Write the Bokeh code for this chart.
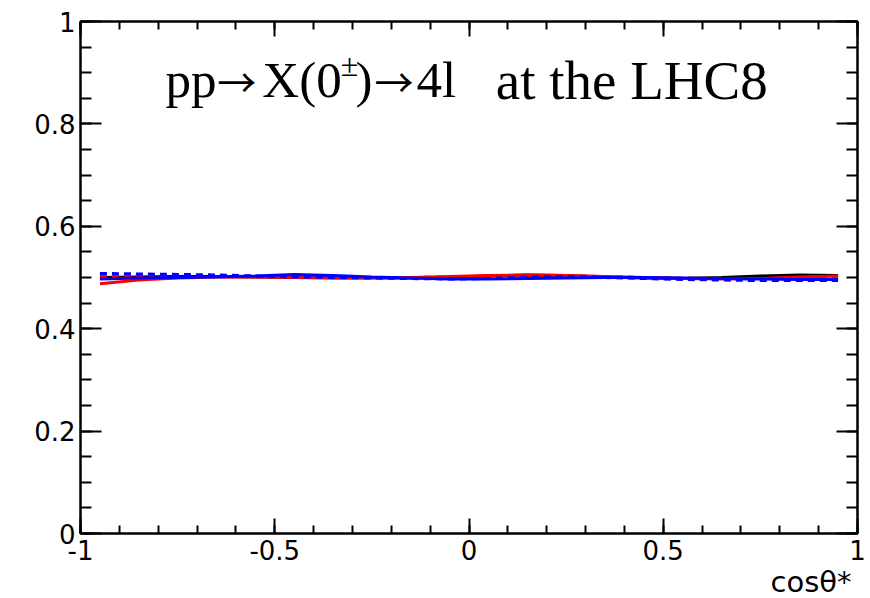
from bokeh.plotting import figure
from bokeh.models import LinearAxis, FixedTicker, Label, Range1d, Title
from bokeh.embed import file_html
from bokeh.resources import INLINE

# ---- data ----
cos_theta = [-0.95, -0.85, -0.75, -0.65, -0.55, -0.45, -0.35, -0.25, -0.15, -0.05,
             0.05, 0.15, 0.25, 0.35, 0.45, 0.55, 0.65, 0.75, 0.85, 0.95]
black_solid = [0.500, 0.501, 0.502, 0.502, 0.501, 0.500, 0.499, 0.499, 0.499, 0.500,
               0.503, 0.505, 0.504, 0.501, 0.499, 0.498, 0.500, 0.503, 0.505, 0.504]
red_solid = [0.488, 0.495, 0.499, 0.501, 0.501, 0.500, 0.500, 0.500, 0.500, 0.502,
             0.504, 0.505, 0.504, 0.502, 0.500, 0.498, 0.497, 0.498, 0.501, 0.503]
red_dashed = [0.502, 0.503, 0.503, 0.503, 0.502, 0.502, 0.501, 0.500, 0.500, 0.501,
              0.503, 0.504, 0.503, 0.502, 0.500, 0.499, 0.498, 0.498, 0.499, 0.500]
blue_solid = [0.497, 0.499, 0.500, 0.501, 0.503, 0.506, 0.504, 0.501, 0.499, 0.497,
              0.497, 0.498, 0.499, 0.500, 0.500, 0.499, 0.498, 0.497, 0.496, 0.496]
blue_dashed = [0.508, 0.507, 0.506, 0.505, 0.503, 0.501, 0.500, 0.499, 0.498, 0.497,
               0.498, 0.501, 0.502, 0.500, 0.498, 0.496, 0.495, 0.494, 0.494, 0.494]

x_major = [-1, -0.5, 0, 0.5, 1]
x_tick_labels = ["-1", "-0.5", "0", "0.5", "1"]
x_minor = [round(-1 + 0.1 * i, 2) for i in range(21)]
y_major = [0, 0.2, 0.4, 0.6, 0.8, 1]
y_tick_labels = ["0", "0.2", "0.4", "0.6", "0.8", "1"]
y_minor = [round(0.05 * i, 2) for i in range(21)]
x_title = "cos\u03b8*"

p = figure(width=870, height=598, output_backend="svg", toolbar_location=None,
           x_range=Range1d(-1, 1), y_range=Range1d(0, 1),
           x_axis_location=None, y_axis_location=None,
           min_border_left=80, min_border_right=13, min_border_top=21, min_border_bottom=65)
p.xgrid.visible = False
p.ygrid.visible = False
p.outline_line_color = "black"
p.outline_line_width = 2
p.background_fill_color = "white"
p.border_fill_color = "white"

FONT = "DejaVu Sans"
LBL = "26px"

def style(ax, horizontal):
    ax.axis_line_color = "black"
    ax.axis_line_width = 2
    ax.major_tick_line_width = 2
    ax.minor_tick_line_width = 2
    ax.major_tick_out = 0
    ax.minor_tick_out = 0
    if horizontal:
        ax.major_tick_in = 15
        ax.minor_tick_in = 8
    else:
        ax.major_tick_in = 21
        ax.minor_tick_in = 11
    ax.major_label_text_font = FONT
    ax.major_label_text_font_size = LBL
    ax.major_label_text_color = "black"

xb = LinearAxis(ticker=FixedTicker(ticks=x_major, minor_ticks=x_minor),
                major_label_overrides={v: s for v, s in zip(x_major, x_tick_labels)})
style(xb, True)
xb.major_label_standoff = 6
p.add_layout(xb, "below")

xt = LinearAxis(ticker=FixedTicker(ticks=x_major, minor_ticks=x_minor),
                major_label_overrides={v: "" for v in x_major})
style(xt, True)
xt.major_label_standoff = 0
p.add_layout(xt, "above")

yl = LinearAxis(ticker=FixedTicker(ticks=y_major, minor_ticks=y_minor),
                major_label_overrides={v: s for v, s in zip(y_major, y_tick_labels)})
style(yl, False)
yl.major_label_standoff = 5
p.add_layout(yl, "left")

yr = LinearAxis(ticker=FixedTicker(ticks=y_major, minor_ticks=y_minor),
                major_label_overrides={v: "" for v in y_major})
style(yr, False)
yr.major_label_standoff = 0
p.add_layout(yr, "right")

xtitle = Title(text=x_title, align="right", text_font=FONT, text_font_size="29px",
               text_font_style="normal", text_color="black", standoff=0, offset=6)
p.add_layout(xtitle, "below")

LW = 3
p.line(cos_theta, black_solid, line_color="black", line_width=LW)
p.line(cos_theta, red_solid, line_color="red", line_width=LW)
p.line(cos_theta, red_dashed, line_color="red", line_width=LW, line_dash="7 5")
p.line(cos_theta, blue_solid, line_color="blue", line_width=LW)
p.line(cos_theta, blue_dashed, line_color="blue", line_width=LW, line_dash="7 5")

SERIF = "Liberation Serif"
TS = "51px"
TY = 0.885
ARROW_FONT = "Noto Sans CJK JP"

def tlabel(x, text, font=SERIF, size=TS, y=TY, align="left"):
    p.add_layout(Label(x=x, y=y, text=text, text_font=font, text_font_size=size,
                       text_color="black", text_baseline="middle", text_align=align))

tlabel(-0.781, "pp")
tlabel(-0.598, "\u2192", font=ARROW_FONT, size="39px", y=0.886, align="center")
tlabel(-0.532, "X(0")
tlabel(-0.330, "\u00b1", size="32px", y=0.916)
tlabel(-0.292, ")")
tlabel(-0.193, "\u2192", font=ARROW_FONT, size="39px", y=0.886, align="center")
tlabel(-0.135, "4l")
tlabel(0.769, "at the LHC8", size="55px", align="right")

open("out.html", "w").write(file_html(p, INLINE))
